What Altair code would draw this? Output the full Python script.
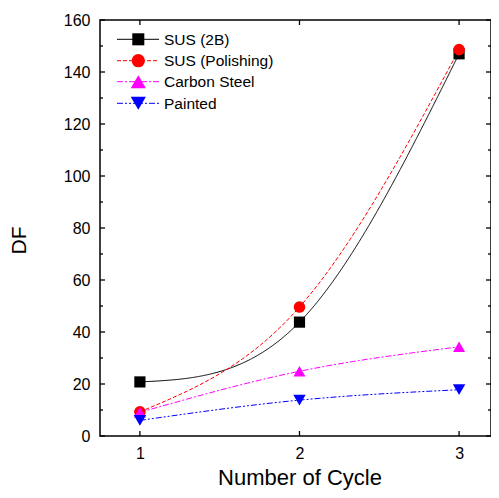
import altair as alt
import pandas as pd

# ---- data ----
cycles = [1, 2, 3]
series_names = ["SUS (2B)", "SUS (Polishing)", "Carbon Steel", "Painted"]
sus_2b = [20.8, 43.8, 147.0]
sus_polishing = [9.3, 49.6, 148.6]
carbon_steel = [9.1, 24.9, 34.3]
painted = [6.0, 13.8, 17.8]

colors = ["#000000", "#FF0000", "#FF00FF", "#0000FF"]
shapes = ["square", "circle", "triangle-up", "triangle-down"]
dashes = [[1, 0], [4, 2], [6, 2, 2, 2], [6, 2, 2, 2, 2, 2]]
sizes = [125, 155, 210, 210]

y_major = [0, 20, 40, 60, 80, 100, 120, 140, 160]
y_minor = [10, 30, 50, 70, 90, 110, 130, 150]
x_major = [1, 2, 3]

X_DOMAIN = [0.75, 3.2]
Y_DOMAIN = [0, 160]
W, H = 391, 416
FONT = "Liberation Sans"

rows = []
for name, vals in zip(series_names, [sus_2b, sus_polishing, carbon_steel, painted]):
    for c, v in zip(cycles, vals):
        rows.append({"series": name, "cycle": c, "df": v})
data = pd.DataFrame(rows)

xs = alt.Scale(domain=X_DOMAIN, nice=False, zero=False)
ys = alt.Scale(domain=Y_DOMAIN, nice=False)
x_axis = alt.Axis(values=x_major, format="d", labelPadding=9, titleFontSize=22,
                  titleX=W / 2 + 4, titleY=48.5, titleBaseline="alphabetic", titleAlign="center")
y_axis = alt.Axis(values=y_major, format="d", labelPadding=10, titleFontSize=21,
                  titleX=-81, titleY=220, titleAngle=270, titleAlign="center", titleBaseline="middle")
X = lambda f: alt.X(f, scale=xs, title="Number of Cycle", axis=x_axis)
Y = lambda f: alt.Y(f, scale=ys, title="DF", axis=y_axis)

color_enc = alt.Color("series:N", scale=alt.Scale(domain=series_names, range=colors), legend=None)
dash_enc = alt.StrokeDash("series:N", scale=alt.Scale(domain=series_names, range=dashes), legend=None)
shape_enc = alt.Shape("series:N", scale=alt.Scale(domain=series_names, range=shapes), legend=None)
size_enc = alt.Size("series:N", scale=alt.Scale(domain=series_names, range=sizes), legend=None)

lines = alt.Chart(data).mark_line(interpolate="natural", strokeWidth=1).encode(
    x=X("cycle:Q"), y=Y("df:Q"), color=color_enc, strokeDash=dash_enc, detail="series:N"
)
points = alt.Chart(data).mark_point(filled=True, opacity=1).encode(
    x=X("cycle:Q"), y=Y("df:Q"), color=color_enc, shape=shape_enc, size=size_enc,
    order=alt.Order("order:Q")
).transform_calculate(order="indexof(%s, datum.series)" % str(series_names))

# inward ticks on all four sides
def vdf(vals):
    return pd.DataFrame({"v": vals})

tick_style = dict(color="black", strokeWidth=1.3)
ticks = [
    alt.Chart(vdf(y_major)).mark_rule(**tick_style).encode(y=Y("v:Q"), x=alt.value(0), x2=alt.value(5)),
    alt.Chart(vdf(y_minor)).mark_rule(**tick_style).encode(y=Y("v:Q"), x=alt.value(0), x2=alt.value(3)),
    alt.Chart(vdf(y_major)).mark_rule(**tick_style).encode(y=Y("v:Q"), x=alt.value(W), x2=alt.value(W - 5)),
    alt.Chart(vdf(y_minor)).mark_rule(**tick_style).encode(y=Y("v:Q"), x=alt.value(W), x2=alt.value(W - 3)),
    alt.Chart(vdf(x_major)).mark_rule(**tick_style).encode(x=X("v:Q"), y=alt.value(0), y2=alt.value(5)),
    alt.Chart(vdf(x_major)).mark_rule(**tick_style).encode(x=X("v:Q"), y=alt.value(H), y2=alt.value(H - 5)),
]

# legend (top-left, inside the frame)
legend_rows_y = [19.3, 40.7, 61.7, 83.3]
legend_layers = []
for i, name in enumerate(series_names):
    ldf = pd.DataFrame({"label": [name]})
    ry = legend_rows_y[i]
    legend_layers.append(
        alt.Chart(ldf).mark_rule(color=colors[i], strokeWidth=1, strokeDash=dashes[i]).encode(
            x=alt.value(17), x2=alt.value(59), y=alt.value(ry)
        )
    )
    legend_layers.append(
        alt.Chart(ldf).mark_point(filled=True, opacity=1, color=colors[i], shape=shapes[i], size=sizes[i] + 20).encode(
            x=alt.value(38.3), y=alt.value(ry)
        )
    )
    legend_layers.append(
        alt.Chart(ldf).mark_text(align="left", baseline="middle", font=FONT, fontSize=15.5, color="black").encode(
            x=alt.value(64), y=alt.value(ry + 0.5), text="label:N"
        )
    )

chart = alt.layer(lines, points, *ticks, *legend_layers).properties(
    width=W,
    height=H,
    autosize=alt.AutoSizeParams(type="none"),
    padding={"left": 92, "top": 12, "right": 0, "bottom": 54},
).configure_view(
    stroke="black", strokeWidth=1.5
).configure_axis(
    grid=False, ticks=False, tickSize=0, domain=False,
    labelFont=FONT, labelFontSize=16, labelColor="black",
    titleFont=FONT, titleColor="black", titleFontWeight="normal",
)

chart.save("out.html", embed_options={"renderer": "svg", "actions": False})
